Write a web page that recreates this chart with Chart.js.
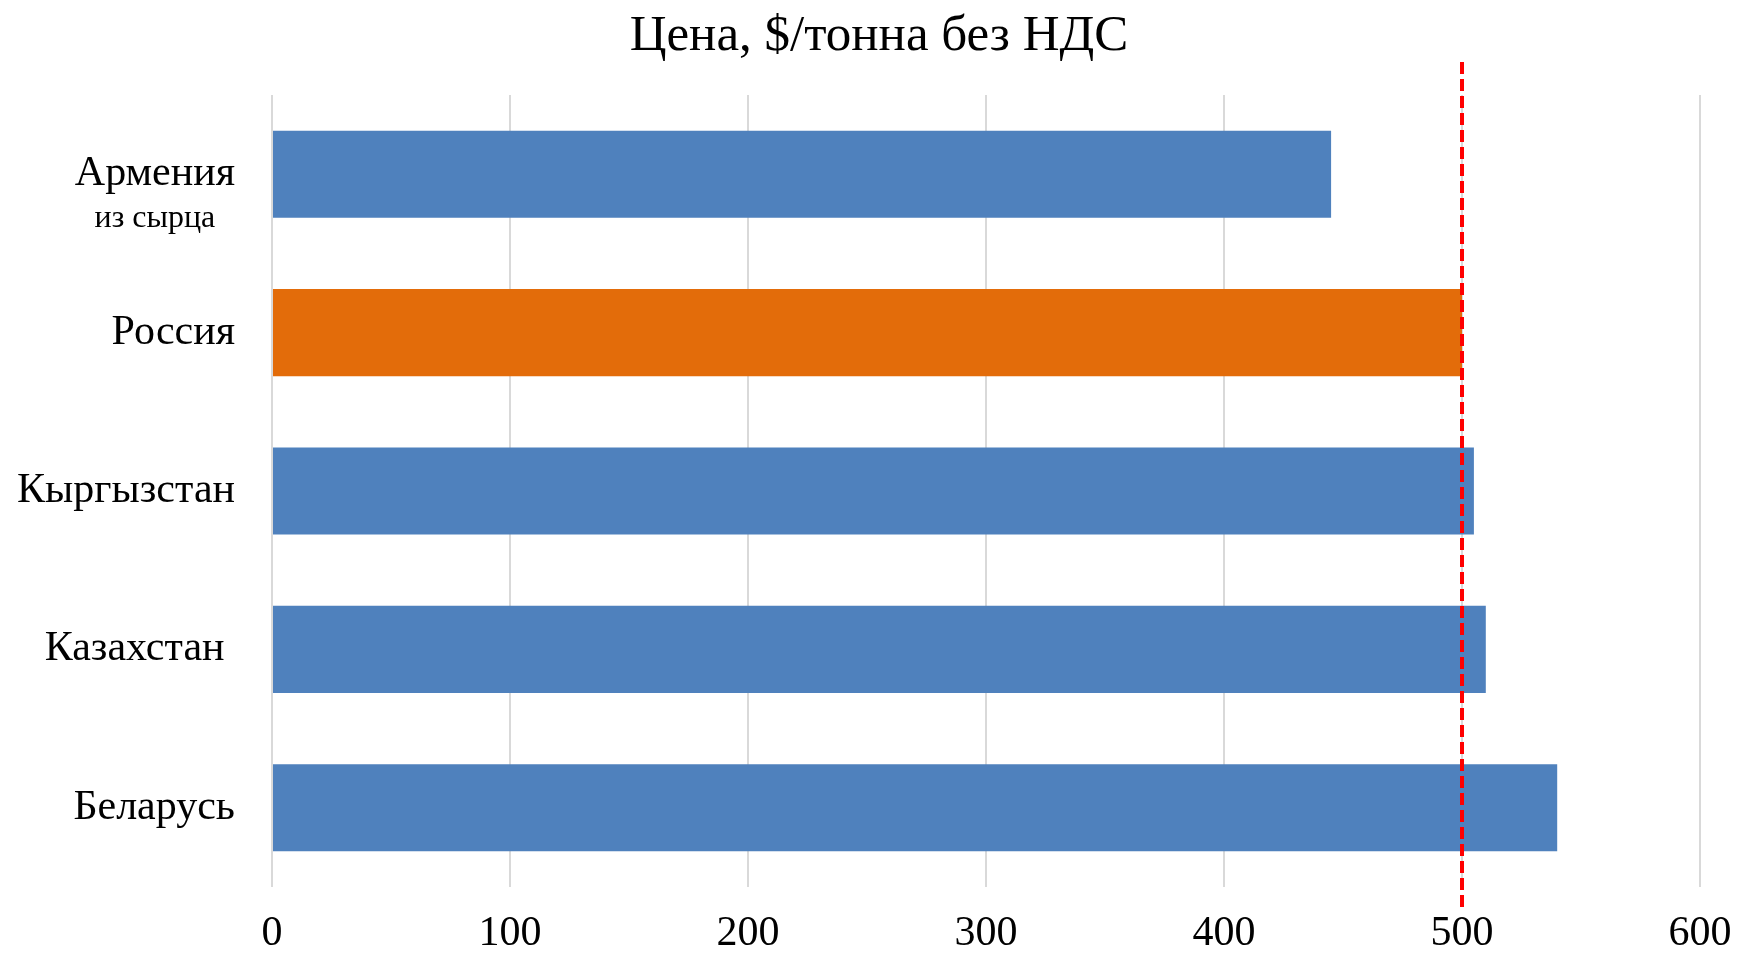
<!DOCTYPE html>
<html>
<head>
<meta charset="utf-8">
<script src="https://cdn.jsdelivr.net/npm/chart.js@4"></script>
<style>
  body { margin: 0; background: #fff; }
  #wrap { width: 1738px; height: 953px; }
</style>
</head>
<body>
<div id="wrap"><canvas id="priceChart"></canvas></div>
<script>
// data
const countries = ['Армения', 'Россия', 'Кыргызстан', 'Казахстан ', 'Беларусь'];
const subLabels = ['из сырца', '', '', '', ''];
const prices = [445, 500, 505, 510, 540];
const refPrice = 500;
const xTicks = [0, 100, 200, 300, 400, 500, 600];
const chartTitle = 'Цена, $/тонна без НДС';

const serif = 'Liberation Serif';
const blue = '#4F81BD';
const orange = '#E36C0A';

// title, a bit right of the canvas middle like in the original
const titlePlugin = {
  id: 'sheetTitle',
  afterDraw(chart) {
    const ctx = chart.ctx;
    ctx.save();
    ctx.font = '51px "' + serif + '"';
    ctx.fillStyle = '#000';
    ctx.textAlign = 'center';
    ctx.textBaseline = 'alphabetic';
    ctx.fillText(chartTitle, chart.width / 2 + 10, 50);
    ctx.restore();
  }
};

// red dashed reference line at refPrice
const refLine = {
  id: 'refLine',
  afterDatasetsDraw(chart) {
    const ctx = chart.ctx;
    const x = chart.scales.x.getPixelForValue(refPrice);
    ctx.save();
    ctx.strokeStyle = '#FF0000';
    ctx.lineWidth = 4;
    ctx.setLineDash([12, 5]);
    ctx.beginPath();
    ctx.moveTo(x, chart.chartArea.top - 33);
    ctx.lineTo(x, chart.chartArea.bottom + 23);
    ctx.stroke();
    ctx.restore();
  }
};

// second, smaller line under a category label
const subLabelPlugin = {
  id: 'subLabel',
  afterDraw(chart) {
    const ctx = chart.ctx;
    const y = chart.scales.y;
    ctx.save();
    subLabels.forEach((txt, i) => {
      if (!txt) return;
      ctx.font = '42px "' + serif + '"';
      const w = ctx.measureText(countries[i]).width;
      const cx = y.right - 37 - w / 2;
      ctx.font = '32px "' + serif + '"';
      ctx.fillStyle = '#000';
      ctx.textAlign = 'center';
      ctx.textBaseline = 'alphabetic';
      ctx.fillText(txt, cx, y.getPixelForValue(i) + 53);
    });
    ctx.restore();
  }
};

const priceChart = new Chart(document.getElementById('priceChart'), {
  type: 'bar',
  data: {
    labels: countries,
    datasets: [{
      data: prices,
      backgroundColor: countries.map(c => c === 'Россия' ? orange : blue),
      categoryPercentage: 1,
      barPercentage: 0.55
    }]
  },
  options: {
    indexAxis: 'y',
    responsive: true,
    maintainAspectRatio: false,
    devicePixelRatio: 1,
    animation: false,
    layout: { padding: { left: 0, right: 38, top: 95, bottom: 0 } },
    plugins: {
      legend: { display: false },
      tooltip: { enabled: false },
      title: { display: false }
    },
    scales: {
      x: {
        min: 0,
        max: 600,
        afterBuildTicks: s => { s.ticks = xTicks.map(v => ({ value: v })); },
        grid: { color: '#D9D9D9', lineWidth: 2, drawTicks: false },
        border: { display: false },
        ticks: {
          color: '#000',
          padding: 26,
          font: { family: serif, size: 42, lineHeight: 1 }
        },
        afterFit: s => { s.height = 66; s.paddingLeft = 0; s.paddingRight = 0; }
      },
      y: {
        grid: { display: false, drawTicks: false },
        border: { display: false },
        ticks: {
          color: '#000',
          padding: 37,
          font: { family: serif, size: 42 }
        },
        afterFit: s => { s.width = 272; }
      }
    }
  },
  plugins: [titlePlugin, refLine, subLabelPlugin]
});
</script>
</body>
</html>
